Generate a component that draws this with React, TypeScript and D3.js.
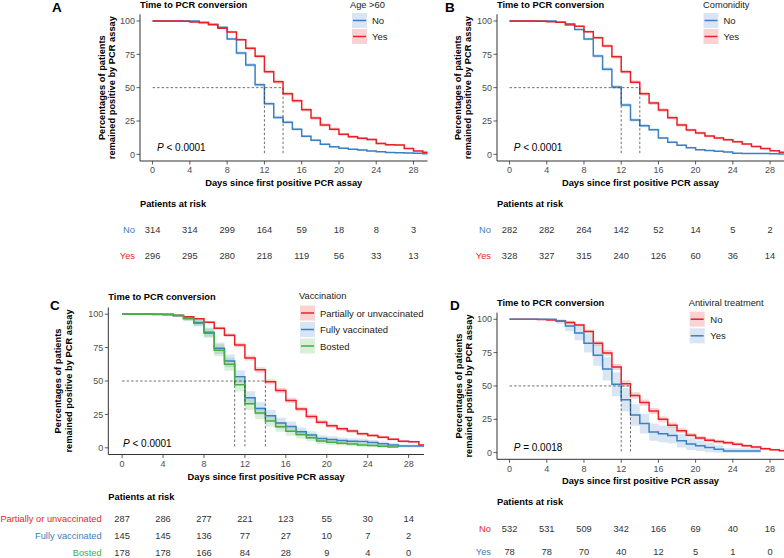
import React from 'react';
import * as d3 from 'd3';

const DAYS = [0, 1, 2, 3, 4, 5, 6, 7, 8, 9, 10, 11, 12, 13, 14, 15, 16, 17, 18, 19, 20, 21, 22, 23, 24, 25, 26, 27, 28, 29];
const X_TICKS = [0, 4, 8, 12, 16, 20, 24, 28];
const Y_TICKS = [0, 25, 50, 75, 100];

// Panel A – Age >60
const A_NO = [100, 100, 100, 100, 100, 99.0, 97.5, 95.2, 86.5, 76.0, 67.0, 52.2, 38.0, 27.6, 24.0, 18.8, 13.5, 10.5, 7.6, 5.7, 4.5, 3.8, 3.2, 2.5, 1.9, 1.3, 1.2, 1.0, 0.8, 0.5];
const A_YES = [100, 100, 100, 99.7, 99.3, 98.6, 97.2, 94.6, 91.8, 86.0, 79.5, 73.6, 62.0, 54.5, 45.5, 40.2, 33.5, 27.3, 22.0, 18.9, 15.0, 13.2, 12.0, 11.1, 8.2, 7.2, 7.0, 4.4, 2.5, 1.5];
const A_RISK_NO = [314, 314, 299, 164, 59, 18, 8, 3];
const A_RISK_YES = [296, 295, 280, 218, 119, 56, 33, 13];
const A_MEDIANS = [12, 14];

// Panel B – Comonidity
const B_NO = [100, 100, 100, 100, 100, 99.0, 97.0, 93.6, 86.4, 73.8, 63.8, 50.4, 37.0, 25.7, 21.5, 18.4, 12.2, 9.0, 6.8, 5.0, 3.4, 2.8, 2.4, 1.8, 0.8, 0.7, 0.7, 0.7, 0.5, 0.3];
const B_YES = [100, 100, 100, 99.7, 99.5, 99.0, 97.7, 96.0, 92.0, 87.5, 81.3, 73.2, 62.0, 54.0, 45.5, 38.4, 33.2, 27.5, 22.0, 18.3, 16.0, 13.7, 12.2, 11.0, 9.5, 7.7, 5.8, 4.3, 2.7, 1.5];
const B_RISK_NO = [282, 282, 264, 142, 52, 14, 5, 2];
const B_RISK_YES = [328, 327, 315, 240, 126, 60, 36, 14];
const B_MEDIANS = [12, 14];

// Panel C – Vaccination
const C_PART = [100, 100, 100, 99.7, 99.5, 99.0, 98.0, 96.5, 94.0, 89.5, 84.3, 77.0, 67.2, 58.4, 49.4, 42.9, 35.5, 29.0, 23.5, 19.2, 16.5, 14.2, 12.5, 10.5, 9.2, 8.0, 6.5, 4.9, 4.5, 2.2];
const C_FULL = [100, 100, 100, 100, 100, 99.0, 97.0, 93.8, 86.5, 74.5, 65.0, 53.1, 37.5, 29.5, 24.0, 18.6, 16.0, 12.0, 9.5, 6.9, 6.2, 5.5, 5.0, 4.8, 4.0, 3.0, 2.2, 1.4, 1.4, 1.4];
const C_BOST = [100, 100, 100, 100, 100, 99.0, 96.5, 93.3, 85.8, 73.0, 62.5, 47.2, 33.0, 26.0, 20.0, 15.7, 12.4, 10.0, 7.5, 5.1, 4.2, 3.4, 2.8, 2.2, 1.7, 1.1, 0.6];
const C_RISK_PART = [287, 286, 277, 221, 123, 55, 30, 14];
const C_RISK_FULL = [145, 145, 136, 77, 27, 10, 7, 2];
const C_RISK_BOST = [178, 178, 166, 84, 28, 9, 4, 0];
const C_MEDIANS = [11, 12, 14];

// Panel D – Antiviral treatment
const D_NO = [100, 100, 100, 99.8, 99.5, 98.7, 97.5, 95.7, 90.8, 82.0, 74.8, 64.3, 51.7, 42.8, 37.5, 31.2, 25.0, 20.5, 16.5, 13.0, 11.0, 9.3, 8.3, 7.5, 6.3, 5.2, 4.2, 3.0, 2.2, 1.5];
const D_YES = [100, 100, 100, 100, 100, 98.7, 94.9, 89.7, 82.0, 73.1, 62.8, 51.3, 39.7, 28.2, 21.8, 15.4, 14.1, 12.8, 9.0, 6.4, 5.1, 3.8, 2.6, 1.3, 1.3, 1.3, 1.3];
const D_RISK_NO = [532, 531, 509, 342, 166, 69, 40, 16];
const D_RISK_YES = [78, 78, 70, 40, 12, 5, 1, 0];
const D_MEDIANS = [12, 13];

// confidence half-width (percentage points at S = 50%)
const CI_A = [1.5, 1.5];
const CI_B = [1.5, 1.5];
const CI_C = [2, 5, 5];
const CI_D = [2.5, 9];

const LAST_DAY = 29.6;
const END_C_BOST = 27;
const END_D_YES = 27;

const RED = '#EC1F26';
const BLUE = '#3A80C2';
const GREEN = '#45AD41';
const FONT = "'Liberation Sans', Arial, Helvetica, sans-serif";

type Series = { name: string; color: string; values: number[]; end: number; ci: number };
type RiskRow = { label: string; color: string; values: number[] };
type PanelCfg = {
  id: string;
  letter: string;
  letterX: number;
  letterY: number;
  x0: number;
  x1: number;
  yTop: number;
  yBottom: number;
  titleY: number;
  legendTitle: string;
  legendX: number;
  legendTitleY: number;
  keyX: number;
  keyTop: number;
  keyStep: number;
  labelX: number;
  series: Series[];
  medians: number[];
  pText: string;
  pRel: string;
  pX: number;
  pY: number;
  yTitleX: [number, number];
  riskTitleY: number;
  riskRowsY: number[];
  riskLabelRight: number;
  risk: RiskRow[];
};

const mk = (name: string, color: string, values: number[], end: number, ci: number): Series => ({ name, color, values, end, ci });

const PANELS: PanelCfg[] = [
  {
    id: 'A', letter: 'A', letterX: 52, letterY: 11.5,
    x0: 140, x1: 427.5, yTop: 14.3, yBottom: 161, titleY: 8,
    legendTitle: 'Age >60', legendX: 350, legendTitleY: 8, keyX: 352, keyTop: 13, keyStep: 16, labelX: 372,
    series: [mk('No', BLUE, A_NO, LAST_DAY, CI_A[0]), mk('Yes', RED, A_YES, LAST_DAY, CI_A[1])],
    medians: A_MEDIANS, pText: 'P', pRel: ' < 0.0001', pX: 157, pY: 151,
    yTitleX: [105, 115], riskTitleY: 207.3, riskRowsY: [233.3, 258.6], riskLabelRight: 135,
    risk: [{ label: 'No', color: BLUE, values: A_RISK_NO }, { label: 'Yes', color: RED, values: A_RISK_YES }],
  },
  {
    id: 'B', letter: 'B', letterX: 445, letterY: 11.5,
    x0: 497, x1: 784, yTop: 14.3, yBottom: 161, titleY: 8,
    legendTitle: 'Comonidity', legendX: 703, legendTitleY: 8, keyX: 703.5, keyTop: 13, keyStep: 16, labelX: 723.5,
    series: [mk('No', BLUE, B_NO, LAST_DAY, CI_B[0]), mk('Yes', RED, B_YES, LAST_DAY, CI_B[1])],
    medians: B_MEDIANS, pText: 'P', pRel: ' < 0.0001', pX: 513.7, pY: 151,
    yTitleX: [460.5, 470.5], riskTitleY: 207.3, riskRowsY: [233.3, 258.6], riskLabelRight: 491,
    risk: [{ label: 'No', color: BLUE, values: B_RISK_NO }, { label: 'Yes', color: RED, values: B_RISK_YES }],
  },
  {
    id: 'C', letter: 'C', letterX: 50, letterY: 310,
    x0: 108.3, x1: 424, yTop: 307.5, yBottom: 454.5, titleY: 300,
    legendTitle: 'Vaccination', legendX: 299, legendTitleY: 299, keyX: 300, keyTop: 305.5, keyStep: 16.5, labelX: 320,
    series: [
      mk('Partially or unvaccinated', RED, C_PART, LAST_DAY, CI_C[0]),
      mk('Fully vaccinated', BLUE, C_FULL, LAST_DAY, CI_C[1]),
      mk('Bosted', GREEN, C_BOST, END_C_BOST, CI_C[2]),
    ],
    medians: C_MEDIANS, pText: 'P', pRel: ' < 0.0001', pX: 123, pY: 447,
    yTitleX: [61, 72], riskTitleY: 500, riskRowsY: [522, 539.2, 555.8], riskLabelRight: 101.7,
    risk: [
      { label: 'Partially or unvaccinated', color: RED, values: C_RISK_PART },
      { label: 'Fully vaccinated', color: BLUE, values: C_RISK_FULL },
      { label: 'Bosted', color: GREEN, values: C_RISK_BOST },
    ],
  },
  {
    id: 'D', letter: 'D', letterX: 450, letterY: 310,
    x0: 497, x1: 784, yTop: 312.6, yBottom: 459.3, titleY: 306,
    legendTitle: 'Antiviral treatment', legendX: 688.7, legendTitleY: 305.7, keyX: 689.7, keyTop: 311.7, keyStep: 16.6, labelX: 710.3,
    series: [mk('No', RED, D_NO, LAST_DAY, CI_D[0]), mk('Yes', BLUE, D_YES, END_D_YES, CI_D[1])],
    medians: D_MEDIANS, pText: 'P', pRel: ' = 0.0018', pX: 513.7, pY: 450.5,
    yTitleX: [461.5, 471.5], riskTitleY: 505, riskRowsY: [532, 555.3], riskLabelRight: 491,
    risk: [{ label: 'No', color: RED, values: D_RISK_NO }, { label: 'Yes', color: BLUE, values: D_RISK_YES }],
  },
];

function Panel({ cfg }: { cfg: PanelCfg }) {
  const x = d3.scaleLinear().domain([-1.35, 29.5]).range([cfg.x0, cfg.x1]);
  const y = d3.scaleLinear().domain([-5, 105]).range([cfg.yBottom, cfg.yTop]);

  const pts = (s: Series) => {
    const p: [number, number][] = [];
    s.values.forEach((v, i) => {
      if (DAYS[i] < s.end) p.push([DAYS[i], v]);
    });
    p.push([s.end, p[p.length - 1][1]]);
    return p;
  };
  const half = (s: Series, v: number) => {
    const q = Math.max(0, Math.min(1, v / 100));
    return 2 * s.ci * Math.sqrt(q * (1 - q));
  };

  const line = d3.line<[number, number]>().x((d) => x(d[0])).y((d) => y(d[1])).curve(d3.curveStepAfter);

  const clipId = `clip-${cfg.id}`;
  const maxMed = Math.max(...cfg.medians);
  const midY = (cfg.yTop + cfg.yBottom) / 2;
  const midX = (cfg.x0 + cfg.x1) / 2;

  return (
    <g>
      <defs>
        <clipPath id={clipId}>
          <rect x={cfg.x0} y={cfg.yTop} width={cfg.x1 - cfg.x0} height={cfg.yBottom - cfg.yTop} />
        </clipPath>
      </defs>
      {/* panel letter and title */}
      <text x={cfg.letterX} y={cfg.letterY} fontSize={13.5} fontWeight="bold" fill="#000">{cfg.letter}</text>
      <text x={cfg.x0} y={cfg.titleY} fontSize={9.3} fontWeight="bold" fill="#000">Time to PCR conversion</text>

      {/* bands and curves */}
      <g clipPath={`url(#${clipId})`}>
        {cfg.series.map((s) => {
          const p = pts(s);
          const a = d3
            .area<[number, number]>()
            .x((d) => x(d[0]))
            .y0((d) => y(Math.max(0, d[1] - half(s, d[1]))))
            .y1((d) => y(Math.min(100, d[1] + half(s, d[1]))))
            .curve(d3.curveStepAfter);
          return <path key={'b' + s.name} d={a(p) || ''} fill={s.color} fillOpacity={0.2} stroke="none" />;
        })}
        {cfg.series.map((s) => (
          <path key={'l' + s.name} d={line(pts(s)) || ''} fill="none" stroke={s.color} strokeWidth={1.5} />
        ))}
      </g>

      {/* median lines */}
      <line x1={x(0)} x2={x(maxMed)} y1={y(50)} y2={y(50)} stroke="#333" strokeWidth={0.7} strokeDasharray="2.5,2" />
      {cfg.medians.map((m) => (
        <line key={'m' + m} x1={x(m)} x2={x(m)} y1={y(50)} y2={y(0)} stroke="#333" strokeWidth={0.7} strokeDasharray="2.5,2" />
      ))}

      {/* axes */}
      <line x1={cfg.x0} x2={cfg.x0} y1={cfg.yTop} y2={cfg.yBottom} stroke="#333" strokeWidth={1} />
      <line x1={cfg.x0} x2={cfg.x1} y1={cfg.yBottom} y2={cfg.yBottom} stroke="#333" strokeWidth={1} />
      {Y_TICKS.map((t) => (
        <g key={'yt' + t}>
          <line x1={cfg.x0 - 3.5} x2={cfg.x0} y1={y(t)} y2={y(t)} stroke="#333" strokeWidth={0.8} />
          <text x={cfg.x0 - 5} y={y(t) + 3.2} fontSize={9} textAnchor="end" fill="#4d4d4d">{t}</text>
        </g>
      ))}
      {X_TICKS.map((t) => (
        <g key={'xt' + t}>
          <line x1={x(t)} x2={x(t)} y1={cfg.yBottom} y2={cfg.yBottom + 3.5} stroke="#333" strokeWidth={0.8} />
          <text x={x(t)} y={cfg.yBottom + 12.3} fontSize={9} textAnchor="middle" fill="#4d4d4d">{t}</text>
        </g>
      ))}
      <text x={midX} y={cfg.yBottom + 25} fontSize={9.3} fontWeight="bold" textAnchor="middle" fill="#000">
        Days since first positive PCR assay
      </text>
      <text transform={`translate(${cfg.yTitleX[0]},${midY}) rotate(-90)`} fontSize={9.3} fontWeight="bold" textAnchor="middle" fill="#000">
        Percentages of patients
      </text>
      <text transform={`translate(${cfg.yTitleX[1]},${midY}) rotate(-90)`} fontSize={9.3} fontWeight="bold" textAnchor="middle" fill="#000">
        remained positive by PCR assay
      </text>

      {/* p value */}
      <text x={cfg.pX} y={cfg.pY} fontSize={10} fill="#000">
        <tspan fontStyle="italic">{cfg.pText}</tspan>
        <tspan>{cfg.pRel}</tspan>
      </text>

      {/* legend */}
      <text x={cfg.legendX} y={cfg.legendTitleY} fontSize={9.3} fill="#222">{cfg.legendTitle}</text>
      {cfg.series.map((s, i) => {
        const top = cfg.keyTop + i * cfg.keyStep;
        return (
          <g key={'lg' + s.name}>
            <rect x={cfg.keyX} y={top} width={15} height={15} fill={s.color} fillOpacity={0.2} />
            <line x1={cfg.keyX + 1} x2={cfg.keyX + 14} y1={top + 7.5} y2={top + 7.5} stroke={s.color} strokeWidth={1.5} />
            <text x={cfg.labelX} y={top + 11} fontSize={9.5} fill="#222">{s.name}</text>
          </g>
        );
      })}

      {/* risk table */}
      <text x={cfg.x0} y={cfg.riskTitleY} fontSize={9.3} fontWeight="bold" fill="#000">Patients at risk</text>
      {cfg.risk.map((r, i) => (
        <g key={'r' + r.label}>
          <text x={cfg.riskLabelRight} y={cfg.riskRowsY[i]} fontSize={9.3} textAnchor="end" fill={r.color}>{r.label}</text>
          {r.values.map((v, j) => (
            <text key={'rv' + j} x={x(X_TICKS[j])} y={cfg.riskRowsY[i]} fontSize={9.3} textAnchor="middle" fill="#333">{v}</text>
          ))}
        </g>
      ))}
    </g>
  );
}

export default function App() {
  return (
    <svg
      width={784}
      height={558}
      viewBox="0 0 784 558"
      style={{ position: 'absolute', left: 0, top: 0, display: 'block', background: '#fff', fontFamily: FONT }}
    >
      <rect x={0} y={0} width={784} height={558} fill="#fff" />
      {PANELS.map((p) => (
        <Panel key={p.id} cfg={p} />
      ))}
    </svg>
  );
}
